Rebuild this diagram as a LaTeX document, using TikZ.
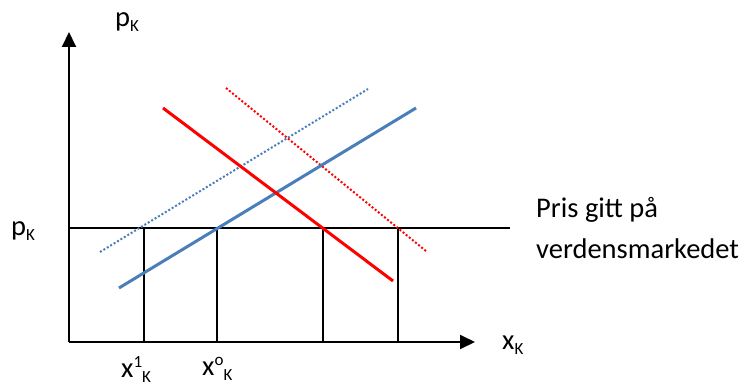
\documentclass[tikz,border=0pt]{standalone}
\usepackage{fontspec}
\setmainfont{Carlito}
\usetikzlibrary{arrows.meta}
\definecolor{offblue}{RGB}{74,126,187}
\definecolor{offred}{RGB}{255,0,0}
\newcommand\subK{\raisebox{-5pt}{\fontsize{17}{17}\selectfont K}}
\newcommand\supS[1]{\raisebox{10pt}{\fontsize{17}{17}\selectfont #1}}
\begin{document}
\begin{tikzpicture}[x=1pt,y=-1pt,
  axis/.style={line width=2pt,-{Triangle[length=15pt,width=14pt]}},
  guide/.style={line width=1.8pt},
  bluesolid/.style={offblue,line width=3pt},
  bluedot/.style={offblue,line width=2pt,dash pattern=on 2pt off 2pt},
  redsolid/.style={offred,line width=3pt},
  reddot/.style={offred,line width=2pt,dash pattern=on 2pt off 2pt},
  lbl/.style={inner sep=0pt,anchor=base west,font=\fontsize{28.5}{34}\selectfont}]
\useasboundingbox (0,0) rectangle (751,385);
% coordinates
\coordinate (O) at (69,342);
\coordinate (ytop) at (69,32);
\coordinate (xend) at (475,342);
\coordinate (pL) at (69,228);
\coordinate (pR) at (510,228);
\coordinate (v1t) at (144,228); \coordinate (v1b) at (144,342);
\coordinate (v2t) at (217,228); \coordinate (v2b) at (217,342);
\coordinate (v3t) at (323,228); \coordinate (v3b) at (323,342);
\coordinate (v4t) at (398,228); \coordinate (v4b) at (398,342);
\coordinate (bs1) at (119,288); \coordinate (bs2) at (416,108);
\coordinate (bd1) at (100,252); \coordinate (bd2) at (368,89);
\coordinate (rs1) at (163,108); \coordinate (rs2) at (393,281);
\coordinate (rd1) at (226,88); \coordinate (rd2) at (426,251);
% guides
\draw[guide] (pL) -- (pR);
\draw[guide] (v1t) -- (v1b);
\draw[guide] (v2t) -- (v2b);
\draw[guide] (v3t) -- (v3b);
\draw[guide] (v4t) -- (v4b);
% curves
\draw[bluedot] (bd1) -- (bd2);
\draw[reddot] (rd1) -- (rd2);
\draw[bluesolid] (bs1) -- (bs2);
\draw[redsolid] (rs1) -- (rs2);
% axes
\draw[axis] (O) -- (ytop);
\draw[axis] (O) -- (xend);
% labels
\node[lbl] (ptop) at (115,27) {p\subK};
\node[lbl] (pleft) at (11,235) {p\subK};
\node[lbl] (xk) at (502,349) {x\subK};
\node[lbl] (x1) at (121,377) {x\supS{1}\subK};
\node[lbl] (x0) at (202,375) {x\supS{o}\subK};
\node[lbl] (pris1) at (536,217) {Pris gitt på};
\node[lbl] (pris2) at (536,258) {verdensmarkedet};
\end{tikzpicture}
\end{document}
